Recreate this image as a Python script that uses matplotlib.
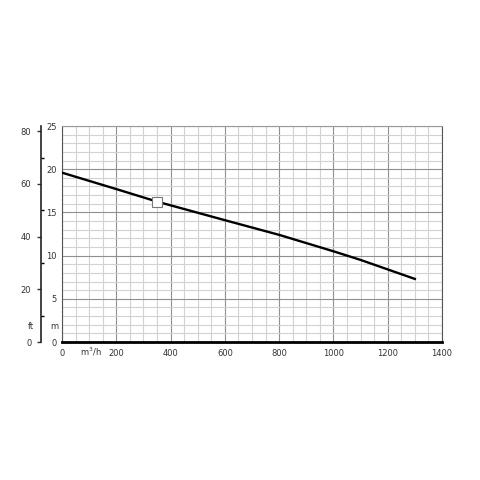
import numpy as np
import matplotlib.pyplot as plt
from matplotlib.ticker import MultipleLocator

# pump curve
flow = [0, 200, 350, 600, 800, 1000, 1100, 1200, 1300]
head = [19.6, 17.7, 16.25, 14.1, 12.4, 10.5, 9.5, 8.4, 7.3]
duty_flow = [350]
duty_head = [16.25]
x_ticks = [0, 200, 400, 600, 800, 1000, 1200, 1400]
m_ticks = [0, 5, 10, 15, 20, 25]
ft_ticks = [0, 20, 40, 60, 80]

M_TO_FT = 3.2808

fig = plt.figure(figsize=(4.8, 4.8), dpi=100)
ax = fig.add_axes([62 / 480, 138 / 480, 380 / 480, 216 / 480])

ax.set_xlim(0, 1400)
ax.set_ylim(0, 25)

# grid: light every 50 m3/h and 1 m, darker every 200 / 5 m
ax.xaxis.set_major_locator(plt.FixedLocator(x_ticks))
ax.yaxis.set_major_locator(plt.FixedLocator(m_ticks))
ax.xaxis.set_minor_locator(MultipleLocator(50))
ax.yaxis.set_minor_locator(MultipleLocator(1))
ax.grid(which='minor', color='#d2d2d2', lw=0.8)
ax.grid(which='major', color='#909090', lw=0.8)
ax.set_axisbelow(True)

ax.tick_params(which='both', length=0, labelsize=6, colors='#333333')
ax.tick_params(axis='x', pad=5)
ax.tick_params(axis='y', pad=4)

for side in ['top', 'right', 'left']:
    ax.spines[side].set_color('#555555')
    ax.spines[side].set_linewidth(0.8)
ax.spines['top'].set_color('#9a9a9a')
ax.spines['bottom'].set_color('black')
ax.spines['bottom'].set_linewidth(2)

ax.plot(flow, head, color='black', lw=1.7, zorder=3)
ax.plot(duty_flow, duty_head, 's', ms=7, mfc='white', mec='#777777',
        mew=0.8, zorder=4)

# second scale in feet, off to the left
sec = ax.secondary_yaxis(-21 / 380, functions=(lambda m: m * M_TO_FT,
                                               lambda f: f / M_TO_FT))
sec.set_yticks(ft_ticks)
sec.yaxis.set_minor_locator(plt.FixedLocator([10, 30, 50, 70]))
sec.tick_params(which='major', length=3, width=1, labelsize=6,
                colors='#333333', pad=4)
sec.tick_params(which='minor', length=2, width=1, direction='in')
sec.spines['left'].set_linewidth(1.2)
sec.spines['left'].set_color('#222222')

ax.text(-12 / 380, 0.07, 'm', transform=ax.transAxes, fontsize=6,
        color='#333333', ha='left', va='center')
ax.text(-34 / 380, 0.07, 'ft', transform=ax.transAxes, fontsize=6,
        color='#333333', ha='left', va='center')
ax.text(0.047, -0.045, 'm$^3$/h', transform=ax.transAxes, fontsize=6,
        color='#333333', ha='left', va='center')

fig.savefig('out.png', dpi=100)
